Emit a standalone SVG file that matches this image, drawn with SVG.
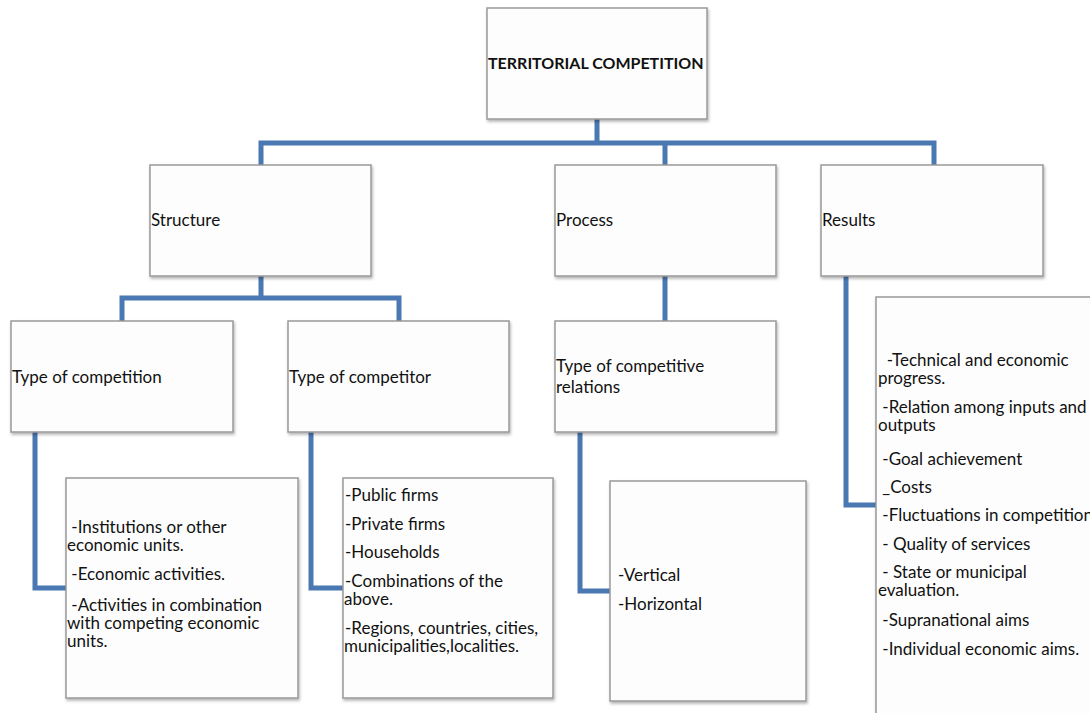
<svg xmlns="http://www.w3.org/2000/svg" width="1090" height="713" viewBox="0 0 1090 713" xml:space="preserve">
<style>
.box{fill:#fdfdfd;stroke:#999;stroke-width:1.5;filter:url(#sh)}
text{font-family:Lato,"Liberation Sans",sans-serif;font-size:17px;fill:#111;white-space:pre}
.title{font-weight:bold;font-size:16px}
.conn{fill:none;stroke:#4a78b2;stroke-width:5;stroke-linejoin:miter}
</style>
<defs>
<filter id="sh" x="-10%" y="-10%" width="125%" height="125%">
<feDropShadow dx="1" dy="2" stdDeviation="1.5" flood-color="#000" flood-opacity="0.3"/>
</filter>
</defs>
<g id="connectors">
<path class="conn" d="M597 119V143M261 165V143H934V165M665 143V165"/>
<path class="conn" d="M261 276V298M122 321V298H399V321"/>
<path class="conn" d="M665 276V321"/>
<path class="conn" d="M35 432V588H66"/>
<path class="conn" d="M311 432V588H343"/>
<path class="conn" d="M580 432V591H610"/>
<path class="conn" d="M846 276V505H876"/>
</g>
<g id="n-top"><rect class="box" x="487" y="8" width="220" height="111"/><text class="title" x="488" y="69">TERRITORIAL COMPETITION</text></g>
<g id="n-structure"><rect class="box" x="150" y="165" width="221" height="111"/><text x="151" y="226">Structure</text></g>
<g id="n-process"><rect class="box" x="555" y="165" width="221" height="111"/><text x="556" y="226">Process</text></g>
<g id="n-results"><rect class="box" x="821" y="165" width="222" height="111"/><text x="822" y="226">Results</text></g>
<g id="n-type-competition"><rect class="box" x="11" y="321" width="222" height="111"/><text x="12" y="383">Type of competition</text></g>
<g id="n-type-competitor"><rect class="box" x="288" y="321" width="221" height="111"/><text x="289" y="383">Type of competitor</text></g>
<g id="n-type-relations"><rect class="box" x="555" y="321" width="221" height="111"/><text x="556" y="372">Type of competitive</text><text x="556" y="393">relations</text></g>
<g id="n-list1"><rect class="box" x="66" y="478" width="232" height="220"/>
<text x="67" y="533"> -Institutions or other</text><text x="67" y="551">economic units.</text><text x="67" y="580"> -Economic activities.</text><text x="67" y="611"> -Activities in combination</text><text x="67" y="629">with competing economic</text><text x="67" y="647">units.</text></g>
<g id="n-list2"><rect class="box" x="343" y="478" width="210" height="220"/>
<text x="345" y="501">-Public firms</text><text x="345" y="530">-Private firms</text><text x="345" y="558">-Households</text><text x="345" y="587">-Combinations of the</text><text x="344" y="605">above.</text><text x="345" y="634">-Regions, countries, cities,</text><text x="344" y="652">municipalities,localities.</text></g>
<g id="n-list3"><rect class="box" x="610" y="481" width="196" height="220"/>
<text x="618" y="581">-Vertical</text><text x="618" y="610">-Horizontal</text></g>
<g id="n-list4"><rect class="box" x="876" y="297" width="240" height="440"/>
<text x="878" y="366">  -Technical and economic</text><text x="878" y="384">progress.</text><text x="878" y="413"> -Relation among inputs and</text><text x="878" y="431">outputs</text><text x="878" y="465"> -Goal achievement</text><text x="878" y="493"> _Costs</text><text x="878" y="521"> -Fluctuations in competition</text><text x="878" y="550"> - Quality of services</text><text x="878" y="578"> - State or municipal</text><text x="878" y="596">evaluation.</text><text x="878" y="626"> -Supranational aims</text><text x="878" y="655"> -Individual economic aims.</text></g>
</svg>
